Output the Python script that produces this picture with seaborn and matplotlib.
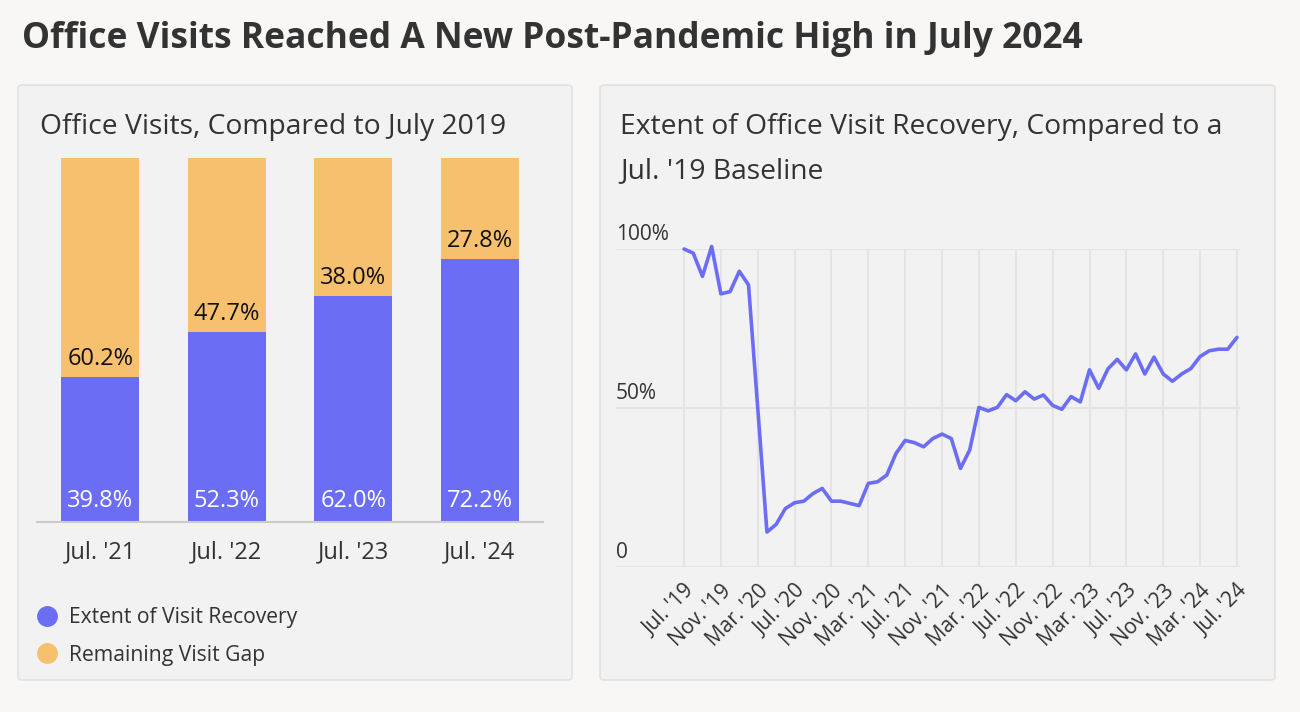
import matplotlib
matplotlib.use("Agg")
import matplotlib.pyplot as plt
from matplotlib.patches import FancyBboxPatch
import seaborn as sns
import pandas as pd

# bar panel data
years = ["Jul. '21", "Jul. '22", "Jul. '23", "Jul. '24"]
recovery = [39.8, 52.3, 62.0, 72.2]
gap = [60.2, 47.7, 38.0, 27.8]

# line panel data: monthly Jul. 2019 - Jul. 2024, % of Jul. 2019 visits
visits = [
    100.0, 98.7, 91.4, 100.8, 85.9, 86.6, 93.0, 88.7, 50.0, 11.0,
    13.4, 18.4, 20.2, 20.7, 23.1, 24.7, 20.7, 20.7, 20.0, 19.3,
    26.3, 26.8, 28.9, 35.7, 39.8, 39.1, 37.8, 40.4, 41.8, 40.4,
    31.0, 36.8, 50.2, 49.1, 50.2, 54.2, 52.3, 55.1, 52.8, 54.1,
    50.8, 49.6, 53.6, 51.9, 62.0, 56.2, 62.3, 65.3, 62.0, 67.0,
    60.7, 66.0, 60.7, 58.4, 60.7, 62.4, 66.2, 68.0, 68.5, 68.5,
    72.2,
]
tick_labels = ["Jul. '19", "Nov. '19", "Mar. '20", "Jul. '20", "Nov. '20", "Mar. '21",
               "Jul. '21", "Nov. '21", "Mar. '22", "Jul. '22", "Nov. '22", "Mar. '23",
               "Jul. '23", "Nov. '23", "Mar. '24", "Jul. '24"]

BLUE = "#6b6ef5"
ORANGE = "#f6c06e"
TEXT = "#333333"
GRID = "#e4e4e4"

W, H = 1300, 712

sns.set_theme(style="white")
plt.rcParams["font.family"] = ["Open Sans", "DejaVu Sans"]


def box(left, top, right, bottom):
    # pixel box -> figure fraction [l, b, w, h]
    return [left / W, 1 - bottom / H, (right - left) / W, (bottom - top) / H]


fig = plt.figure(figsize=(W / 100, H / 100), dpi=100, facecolor="#f8f7f5")

for l, t, r, b in [(18, 85, 572, 680), (600, 85, 1275, 680)]:
    fig.patches.append(FancyBboxPatch(
        (l / W, 1 - b / H), (r - l) / W, (b - t) / H,
        boxstyle="round,pad=0,rounding_size=0.004", zorder=-10,
        transform=fig.transFigure, facecolor="#f2f2f2", edgecolor="#e2e2e2", lw=1.2))

fig.text(22 / W, 1 - 39 / H, "Office Visits Reached A New Post-Pandemic High in July 2024",
         fontsize=25.5, fontweight="bold", color=TEXT, va="center", ha="left")
fig.text(40 / W, 1 - 127 / H, "Office Visits, Compared to July 2019",
         fontsize=20.3, color=TEXT, va="center", ha="left")
fig.text(620 / W, 1 - 127 / H, "Extent of Office Visit Recovery, Compared to a",
         fontsize=20.3, color=TEXT, va="center", ha="left")
fig.text(620 / W, 1 - 171 / H, "Jul. '19 Baseline",
         fontsize=20.3, color=TEXT, va="center", ha="left")

# ---- stacked bars
bars = pd.DataFrame({"year": years, "recovery": recovery, "gap": gap})
bars["total"] = bars["recovery"] + bars["gap"]

ax1 = fig.add_axes(box(37, 158, 543, 522))
ax1.set_facecolor("none")
sns.barplot(data=bars, x="year", y="total", color=ORANGE, width=0.62, saturation=1,
            linewidth=0, ax=ax1)
sns.barplot(data=bars, x="year", y="recovery", color=BLUE, width=0.62, saturation=1,
            linewidth=0, ax=ax1)
ax1.set_xlim(-0.5, 3.5)
ax1.set_ylim(0, 100)
for i, row in bars.iterrows():
    ax1.text(i, row["recovery"] + 3.3, f"{row['gap']:.1f}%", ha="center", va="baseline",
             fontsize=17, color="#111111")
    ax1.text(i, 4.1, f"{row['recovery']:.1f}%", ha="center", va="baseline",
             fontsize=17, color="white")
for s in ["top", "right", "left"]:
    ax1.spines[s].set_visible(False)
ax1.spines["bottom"].set_color("#cccccc")
ax1.spines["bottom"].set_linewidth(1.5)
ax1.set_yticks([])
ax1.set_xlabel("")
ax1.set_ylabel("")
ax1.tick_params(axis="x", length=0, pad=13, labelsize=17, labelcolor=TEXT)

# legend
for y, lab, c in [(616, "Extent of Visit Recovery", BLUE), (653, "Remaining Visit Gap", ORANGE)]:
    fig.add_artist(plt.Line2D([47 / W], [1 - y / H], marker="o", markersize=14, color=c,
                              lw=0, transform=fig.transFigure))
    fig.text(69 / W, 1 - (y + 2) / H, lab, fontsize=15.2, color=TEXT, va="center", ha="left")

# ---- line
months = list(range(len(visits)))
line = pd.DataFrame({"month": months, "visits": visits})
ax2 = fig.add_axes(box(616, 249, 1240, 567))
ax2.set_facecolor("none")
tick_pos = months[::4]
for x in tick_pos:
    ax2.axvline(x, 0, 1, color=GRID, lw=1.5, zorder=0)
for y in [0, 50, 100]:
    ax2.axhline(y, color=GRID, lw=1.5, zorder=0)
sns.lineplot(data=line, x="month", y="visits", color=BLUE, lw=2.6, ax=ax2, clip_on=False)
ax2.set_xlim(-7.38, 60.33)
ax2.set_ylim(0, 100)
for s in ax2.spines.values():
    s.set_visible(False)
ax2.set_yticks([])
ax2.set_xticks(tick_pos)
ax2.set_xticklabels(tick_labels, rotation=45, ha="right", rotation_mode="anchor")
ax2.tick_params(axis="x", length=0, pad=10, labelsize=15, labelcolor=TEXT)
ax2.set_xlabel("")
ax2.set_ylabel("")
for y, lab in [(0, "0"), (50, "50%"), (100, "100%")]:
    ax2.annotate(lab, (0, y), xycoords=("axes fraction", "data"), xytext=(0, 4),
                 textcoords="offset pixels", ha="left", va="bottom", fontsize=15, color=TEXT)

fig.savefig("out.png", dpi=100, facecolor=fig.get_facecolor())
